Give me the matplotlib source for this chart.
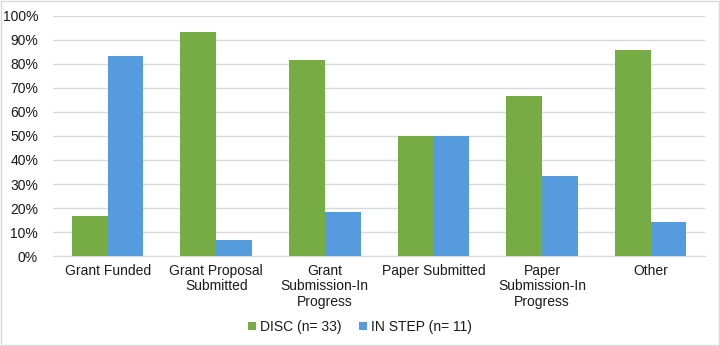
import matplotlib
matplotlib.use("Agg")
import matplotlib.pyplot as plt
import numpy as np
from matplotlib.ticker import PercentFormatter

categories = ["Grant Funded", "Grant Proposal\nSubmitted", "Grant\nSubmission-In\nProgress",
              "Paper Submitted", "Paper\nSubmission-In\nProgress", "Other"]
disc = [16.7, 93.3, 81.8, 50.0, 66.7, 85.7]
instep = [83.3, 6.7, 18.2, 50.0, 33.3, 14.3]
series_names = ["DISC (n= 33)", "IN STEP (n= 11)"]

plt.rcParams['font.family'] = ['Liberation Sans', 'DejaVu Sans']

fig = plt.figure(figsize=(7.2, 3.46), dpi=100)
ax = fig.add_axes([0.074, 0.26, 0.905, 0.694])
x = np.arange(len(categories))
w = 0.33
ax.bar(x - w/2, disc, w, color="#77AC45", label=series_names[0], zorder=3)
ax.bar(x + w/2, instep, w, color="#569BDD", label=series_names[1], zorder=3)
ax.set_xlim(-0.5, len(categories) - 0.5)
ax.set_ylim(0, 100)
ax.set_yticks(np.arange(0, 101, 10))
ax.yaxis.set_major_formatter(PercentFormatter(decimals=0))
ax.grid(axis='y', color="#D9D9D9", linewidth=1, zorder=0)
for s in ["top", "right", "left"]:
    ax.spines[s].set_visible(False)
ax.spines["bottom"].set_color("#D9D9D9")
ax.tick_params(axis='both', length=0, labelsize=10)
ax.tick_params(axis='x', pad=6)
ax.tick_params(axis='y', pad=11)
ax.set_xticks(x)
ax.set_xticklabels(categories, linespacing=1.1)
for t in ax.get_xticklabels() + ax.get_yticklabels():
    t.set_color("#1a1a1a")
leg = fig.legend(loc="center", bbox_to_anchor=(0.5, 0.055), ncol=2, frameon=False,
                 fontsize=10, handlelength=0.6, handleheight=0.6, handletextpad=0.3,
                 columnspacing=1.2)
for t in leg.get_texts():
    t.set_color("#1a1a1a")
fig.patches.append(plt.Rectangle((0.002, 0.003), 0.996, 0.994, transform=fig.transFigure,
                                 fill=False, edgecolor="#D9D9D9", linewidth=1))
fig.savefig("out.png", dpi=100)
